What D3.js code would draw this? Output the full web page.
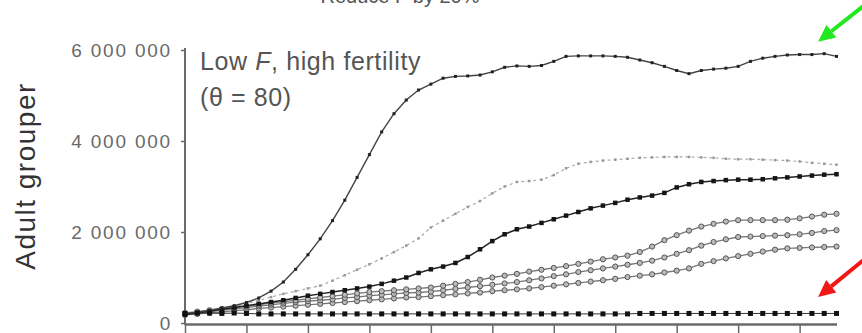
<!DOCTYPE html>
<html>
<head>
<meta charset="utf-8">
<script src="https://cdn.jsdelivr.net/npm/d3@7"></script>
<style>
  body { margin: 0; background: #fff; }
  svg { display: block; font-family: "Liberation Sans", Arial, sans-serif; }
</style>
</head>
<body>
<div id="chart"></div>
<script>
// time steps (one marker per step), ticks every 5
const steps = d3.range(0, 54);
const xTicks = [0, 5, 10, 15, 20, 25, 30, 35, 40, 45, 50];
const yTicks = [0, 2000000, 4000000, 6000000];

// adult grouper, millions
const seriesA = [0.20, 0.24, 0.28, 0.33, 0.38, 0.45, 0.55, 0.70, 0.90, 1.18,
  1.50, 1.85, 2.25, 2.70, 3.20, 3.70, 4.20, 4.60, 4.90, 5.12,
  5.25, 5.38, 5.42, 5.43, 5.45, 5.52, 5.62, 5.65, 5.64, 5.66,
  5.75, 5.86, 5.87, 5.87, 5.87, 5.86, 5.84, 5.78, 5.72, 5.64,
  5.55, 5.48, 5.55, 5.58, 5.60, 5.64, 5.75, 5.82, 5.86, 5.89,
  5.90, 5.90, 5.92, 5.86];
const seriesB = [0.20, 0.22, 0.25, 0.30, 0.36, 0.43, 0.50, 0.57, 0.64, 0.70,
  0.76, 0.82, 0.93, 1.05, 1.17, 1.29, 1.42, 1.56, 1.70, 1.86,
  2.10, 2.25, 2.40, 2.55, 2.68, 2.85, 3.00, 3.10, 3.12, 3.15,
  3.25, 3.40, 3.50, 3.54, 3.57, 3.59, 3.61, 3.63, 3.64, 3.65,
  3.65, 3.65, 3.64, 3.63, 3.61, 3.60, 3.60, 3.59, 3.58, 3.57,
  3.55, 3.52, 3.50, 3.48];
const seriesC = [0.18, 0.22, 0.26, 0.30, 0.34, 0.38, 0.42, 0.46, 0.50, 0.55,
  0.60, 0.64, 0.68, 0.72, 0.76, 0.80, 0.86, 0.93, 1.00, 1.10,
  1.18, 1.24, 1.32, 1.45, 1.62, 1.80, 1.95, 2.06, 2.12, 2.20,
  2.28, 2.36, 2.44, 2.52, 2.58, 2.64, 2.71, 2.76, 2.80, 2.86,
  2.98, 3.05, 3.10, 3.12, 3.14, 3.15, 3.15, 3.16, 3.18, 3.20,
  3.22, 3.24, 3.26, 3.27];
const seriesD = [0.22, 0.25, 0.28, 0.31, 0.34, 0.37, 0.40, 0.44, 0.47, 0.50,
  0.53, 0.56, 0.59, 0.62, 0.65, 0.68, 0.70, 0.72, 0.74, 0.76,
  0.78, 0.82, 0.86, 0.90, 0.95, 1.00, 1.04, 1.08, 1.13, 1.17,
  1.21, 1.25, 1.30, 1.35, 1.40, 1.44, 1.48, 1.56, 1.68, 1.82,
  1.93, 2.03, 2.12, 2.18, 2.23, 2.26, 2.26, 2.26, 2.26, 2.27,
  2.30, 2.34, 2.38, 2.40];
const seriesE = [0.20, 0.22, 0.25, 0.28, 0.31, 0.34, 0.37, 0.40, 0.43, 0.46,
  0.48, 0.50, 0.52, 0.55, 0.57, 0.60, 0.62, 0.64, 0.66, 0.67,
  0.69, 0.72, 0.75, 0.78, 0.81, 0.84, 0.87, 0.90, 0.94, 0.98,
  1.03, 1.07, 1.12, 1.16, 1.20, 1.24, 1.28, 1.32, 1.37, 1.44,
  1.52, 1.60, 1.70, 1.78, 1.84, 1.89, 1.90, 1.91, 1.92, 1.93,
  1.95, 1.98, 2.02, 2.04];
const seriesF = [0.18, 0.20, 0.22, 0.24, 0.27, 0.29, 0.32, 0.34, 0.36, 0.38,
  0.40, 0.42, 0.44, 0.46, 0.48, 0.50, 0.52, 0.54, 0.56, 0.57,
  0.59, 0.61, 0.63, 0.65, 0.67, 0.70, 0.72, 0.74, 0.76, 0.79,
  0.82, 0.85, 0.88, 0.91, 0.94, 0.97, 1.01, 1.04, 1.07, 1.11,
  1.15, 1.20, 1.30, 1.36, 1.42, 1.47, 1.52, 1.57, 1.61, 1.64,
  1.65, 1.66, 1.67, 1.68];
const seriesG = [0.21, 0.22, 0.22, 0.21, 0.22, 0.21, 0.20, 0.20, 0.20, 0.20,
  0.20, 0.20, 0.20, 0.20, 0.20, 0.20, 0.20, 0.20, 0.20, 0.20,
  0.20, 0.20, 0.20, 0.20, 0.20, 0.20, 0.20, 0.20, 0.20, 0.20,
  0.20, 0.20, 0.20, 0.20, 0.20, 0.20, 0.20, 0.21, 0.21, 0.21,
  0.21, 0.21, 0.21, 0.21, 0.21, 0.21, 0.21, 0.21, 0.21, 0.21,
  0.21, 0.21, 0.21, 0.21];

// drawing styles, back to front
const styles = [
  { values: seriesB, line: "#a8a8a8", width: 1.2, dash: "3,3", marker: "square", size: 2.5, fill: "#999", stroke: "none" },
  { values: seriesF, line: "#777", width: 1.3, marker: "circle", size: 2.6, fill: "#bbb", stroke: "#555" },
  { values: seriesE, line: "#777", width: 1.3, marker: "circle", size: 2.6, fill: "#bbb", stroke: "#555" },
  { values: seriesD, line: "#777", width: 1.3, marker: "circle", size: 2.6, fill: "#bbb", stroke: "#555" },
  { values: seriesC, line: "#222", width: 1.5, marker: "square", size: 4.5, fill: "#151515", stroke: "none" },
  { values: seriesA, line: "#444", width: 1.4, marker: "square", size: 3, fill: "#222", stroke: "none" },
  { values: seriesG, line: "#333", width: 1, marker: "square", size: 5, fill: "#111", stroke: "none" }
];

const width = 862;
const height = 333;

const svg = d3.select("#chart").append("svg")
  .attr("width", width)
  .attr("height", height);

const x = d3.scaleLinear().domain([0, 53]).range([185, 836.5]);
const y = d3.scaleLinear().domain([0, 6000000]).range([323, 50]);

// title, mostly cropped off the top
svg.append("text")
  .attr("x", 400)
  .attr("y", 3)
  .attr("text-anchor", "middle")
  .attr("font-size", 20)
  .attr("fill", "#555")
  .text("Reduce F by 20%");

// axes
const xAxis = svg.append("g")
  .attr("transform", `translate(0,${324})`)
  .call(d3.axisBottom(x).tickValues(xTicks).tickFormat("").tickSize(9).tickSizeOuter(0));
xAxis.select(".domain").attr("stroke", "#6a6a6a").attr("stroke-width", 2.5);
xAxis.selectAll(".tick line").attr("stroke", "#6a6a6a").attr("stroke-width", 1.5);

const yAxis = svg.append("g")
  .attr("transform", `translate(${185},0)`)
  .call(d3.axisLeft(y).tickValues(yTicks).tickSize(4).tickSizeOuter(0).tickPadding(9)
    .tickFormat(d => d3.format(",")(d).replace(/,/g, " ")));
yAxis.select(".domain").attr("stroke", "#6a6a6a").attr("stroke-width", 2).attr("d", `M0,${y(6000000) - 2}V${325}`);
yAxis.selectAll(".tick line").attr("stroke", "#6a6a6a").attr("stroke-width", 1.5);
yAxis.selectAll(".tick text")
  .attr("font-family", "Liberation Sans, Arial, sans-serif")
  .attr("font-size", 19)
  .attr("letter-spacing", 1.8)
  .attr("fill", "#6a6a6a");

svg.append("text")
  .attr("transform", `translate(${35},${176}) rotate(-90)`)
  .attr("text-anchor", "middle")
  .attr("font-size", 28)
  .attr("letter-spacing", 1.5)
  .attr("fill", "#333")
  .text("Adult grouper");

// annotation
const note = svg.append("text")
  .attr("x", 200)
  .attr("y", 70)
  .attr("font-size", 25)
  .attr("letter-spacing", 0.6)
  .attr("fill", "#555");
note.append("tspan").text("Low ");
note.append("tspan").attr("font-style", "italic").text("F");
note.append("tspan").text(", high fertility");

svg.append("text")
  .attr("x", 200)
  .attr("y", 106)
  .attr("font-size", 25)
  .attr("letter-spacing", 0.6)
  .attr("fill", "#555")
  .text("(θ = 80)");

// series
const line = d3.line()
  .x((d, i) => x(steps[i]))
  .y(d => y(d * 1000000));

styles.forEach((s) => {
  const g = svg.append("g");
  g.append("path")
    .attr("d", line(s.values))
    .attr("fill", "none")
    .attr("stroke", s.line)
    .attr("stroke-width", s.width)
    .attr("stroke-dasharray", s.dash || null);

  if (s.marker === "circle") {
    g.selectAll("circle")
      .data(s.values)
      .join("circle")
      .attr("cx", (d, i) => x(steps[i]))
      .attr("cy", d => y(d * 1000000))
      .attr("r", s.size)
      .attr("fill", s.fill)
      .attr("stroke", s.stroke)
      .attr("stroke-width", 1);
  } else {
    g.selectAll("rect")
      .data(s.values)
      .join("rect")
      .attr("x", (d, i) => x(steps[i]) - s.size / 2)
      .attr("y", d => y(d * 1000000) - s.size / 2)
      .attr("width", s.size)
      .attr("height", s.size)
      .attr("fill", s.fill);
  }
});

// pointer arrows
function arrow(tipX, tipY, fromX, fromY, color) {
  const ang = Math.atan2(tipY - fromY, tipX - fromX);
  const len = 17, half = 8;
  const bx = tipX - len * Math.cos(ang);
  const by = tipY - len * Math.sin(ang);
  svg.append("line")
    .attr("x1", fromX).attr("y1", fromY)
    .attr("x2", bx).attr("y2", by)
    .attr("stroke", color)
    .attr("stroke-width", 4);
  const px = -Math.sin(ang) * half, py = Math.cos(ang) * half;
  svg.append("path")
    .attr("d", `M${tipX},${tipY}L${bx + px},${by + py}L${bx - px},${by - py}Z`)
    .attr("fill", color);
}
arrow(x(51.5), y(6180000), 866, 4, "#22e81e");
arrow(x(51.5), y(570000), 866, 258, "#f21818");
</script>
</body>
</html>
